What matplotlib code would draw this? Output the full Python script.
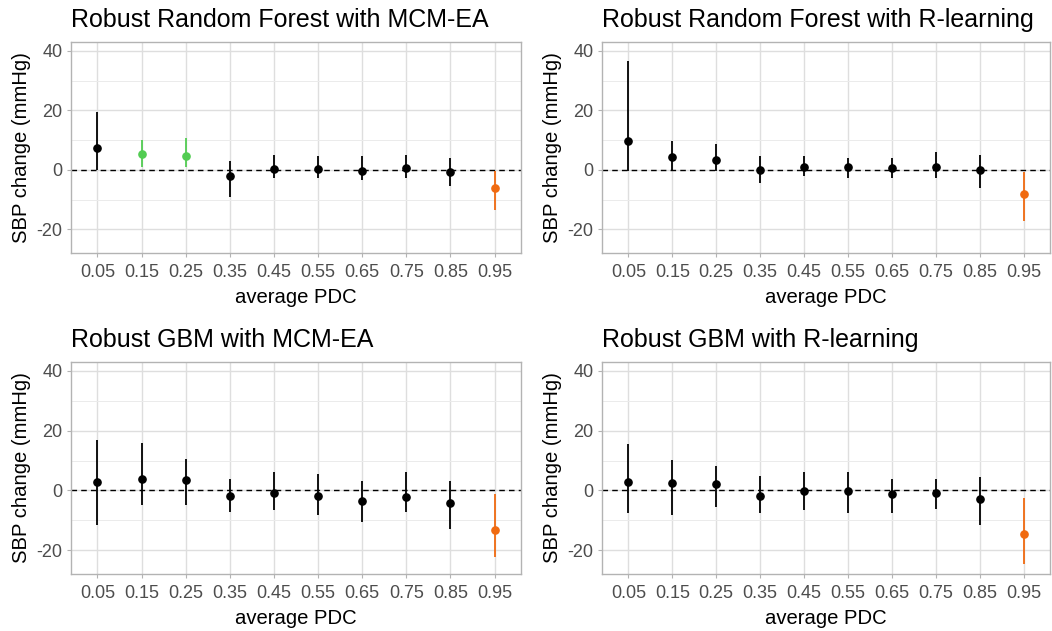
import matplotlib
matplotlib.use("Agg")
import matplotlib.pyplot as plt
import numpy as np

plt.rcParams["font.family"] = ["Liberation Sans", "DejaVu Sans"]
plt.rcParams["axes.unicode_minus"] = False

pdc_labels = ["0.05", "0.15", "0.25", "0.35", "0.45", "0.55", "0.65", "0.75", "0.85", "0.95"]

# point estimate, lower and upper bound per PDC bin, plus significance group
rf_mcm_est = [7.2, 5.3, 4.8, -2.2, 0.1, 0.1, -0.4, 0.6, -0.8, -6.1]
rf_mcm_lo = [0.0, 1.1, 0.8, -9.1, -2.9, -2.6, -3.5, -2.6, -5.4, -13.5]
rf_mcm_hi = [19.6, 10.1, 10.7, 3.0, 4.9, 4.5, 4.5, 4.9, 4.0, -0.3]
rf_mcm_grp = ["ns", "up", "up", "ns", "ns", "ns", "ns", "ns", "ns", "down"]

rf_rl_est = [9.6, 4.4, 3.4, 0.0, 1.0, 1.0, 0.6, 1.0, 0.0, -8.0]
rf_rl_lo = [-0.3, 0.0, -0.3, -4.5, -2.2, -2.9, -2.9, -2.6, -6.0, -17.2]
rf_rl_hi = [36.5, 9.8, 8.7, 4.5, 4.5, 3.9, 3.9, 6.0, 4.9, -0.9]
rf_rl_grp = ["ns", "ns", "ns", "ns", "ns", "ns", "ns", "ns", "ns", "down"]

gbm_mcm_est = [2.9, 3.9, 3.4, -1.8, -0.8, -1.8, -3.7, -2.2, -4.2, -13.2]
gbm_mcm_lo = [-11.6, -4.9, -4.9, -7.3, -6.7, -8.2, -10.6, -7.3, -12.9, -22.4]
gbm_mcm_hi = [16.8, 15.9, 10.6, 3.9, 6.0, 5.5, 3.0, 6.0, 3.0, -1.2]
gbm_mcm_grp = ["ns", "ns", "ns", "ns", "ns", "ns", "ns", "ns", "ns", "down"]

gbm_rl_est = [2.9, 2.5, 2.0, -1.9, -0.3, -0.3, -1.3, -0.8, -2.8, -14.6]
gbm_rl_lo = [-7.6, -8.2, -5.4, -7.6, -6.7, -7.6, -7.6, -6.3, -11.6, -24.7]
gbm_rl_hi = [15.4, 10.1, 8.3, 4.9, 6.0, 6.0, 3.9, 3.9, 4.5, -2.6]
gbm_rl_grp = ["ns", "ns", "ns", "ns", "ns", "ns", "ns", "ns", "ns", "down"]

titles = [
    "Robust Random Forest with MCM-EA",
    "Robust Random Forest with R-learning",
    "Robust GBM with MCM-EA",
    "Robust GBM with R-learning",
]

GROUP_COLORS = {"ns": "black", "up": "#52CC52", "down": "#F06A10"}
W, H = 1052, 631


def panel(fig, box, title, est, lo, hi, grp):
    x0, y0, x1, y1 = box
    ax = fig.add_axes([x0 / W, 1 - y1 / H, (x1 - x0) / W, (y1 - y0) / H])
    x = np.arange(len(pdc_labels))

    ax.set_ylim(-28, 43)
    ax.set_xlim(-0.6, len(pdc_labels) - 0.4)
    ax.set_yticks([-20, 0, 20, 40])
    ax.set_yticks([-10, 10, 30], minor=True)
    ax.set_xticks(x)
    ax.set_xticklabels(pdc_labels)

    ax.grid(True, which="major", color="#DEDEDE", lw=1.0)
    ax.grid(True, which="minor", axis="y", color="#EBEBEB", lw=0.7)
    ax.set_axisbelow(True)
    for s in ax.spines.values():
        s.set_color("#B3B3B3")
        s.set_linewidth(1.0)
    ax.tick_params(which="major", length=3, color="#B3B3B3", labelcolor="#4D4D4D",
                   labelsize=13, pad=3)
    ax.tick_params(axis="x", which="major", pad=5)
    ax.tick_params(which="minor", length=0)

    ax.axhline(0, color="black", lw=1.0, ls=(0, (4, 3)), zorder=2)
    for xi, e, l, h, g in zip(x, est, lo, hi, grp):
        c = GROUP_COLORS[g]
        ax.vlines(xi, l, h, color=c, lw=1.3, zorder=3)
        ax.plot(xi, e, "o", color=c, ms=5.2, zorder=4)

    ax.set_title(title, loc="left", fontsize=18, pad=11)
    ax.set_xlabel("average PDC", fontsize=14.6, labelpad=5)
    ax.set_ylabel("SBP change (mmHg)", fontsize=14.6, labelpad=4)
    return ax


def main():
    fig = plt.figure(figsize=(W / 100, H / 100), dpi=100)
    boxes = [(71, 42, 521, 253), (602, 42, 1050, 253),
             (71, 362, 521, 574), (602, 362, 1050, 574)]
    data = [
        (rf_mcm_est, rf_mcm_lo, rf_mcm_hi, rf_mcm_grp),
        (rf_rl_est, rf_rl_lo, rf_rl_hi, rf_rl_grp),
        (gbm_mcm_est, gbm_mcm_lo, gbm_mcm_hi, gbm_mcm_grp),
        (gbm_rl_est, gbm_rl_lo, gbm_rl_hi, gbm_rl_grp),
    ]
    for box, title, d in zip(boxes, titles, data):
        panel(fig, box, title, *d)

    fig.savefig("out.png", dpi=100, facecolor="white")
    plt.close(fig)


if __name__ == "__main__":
    main()
